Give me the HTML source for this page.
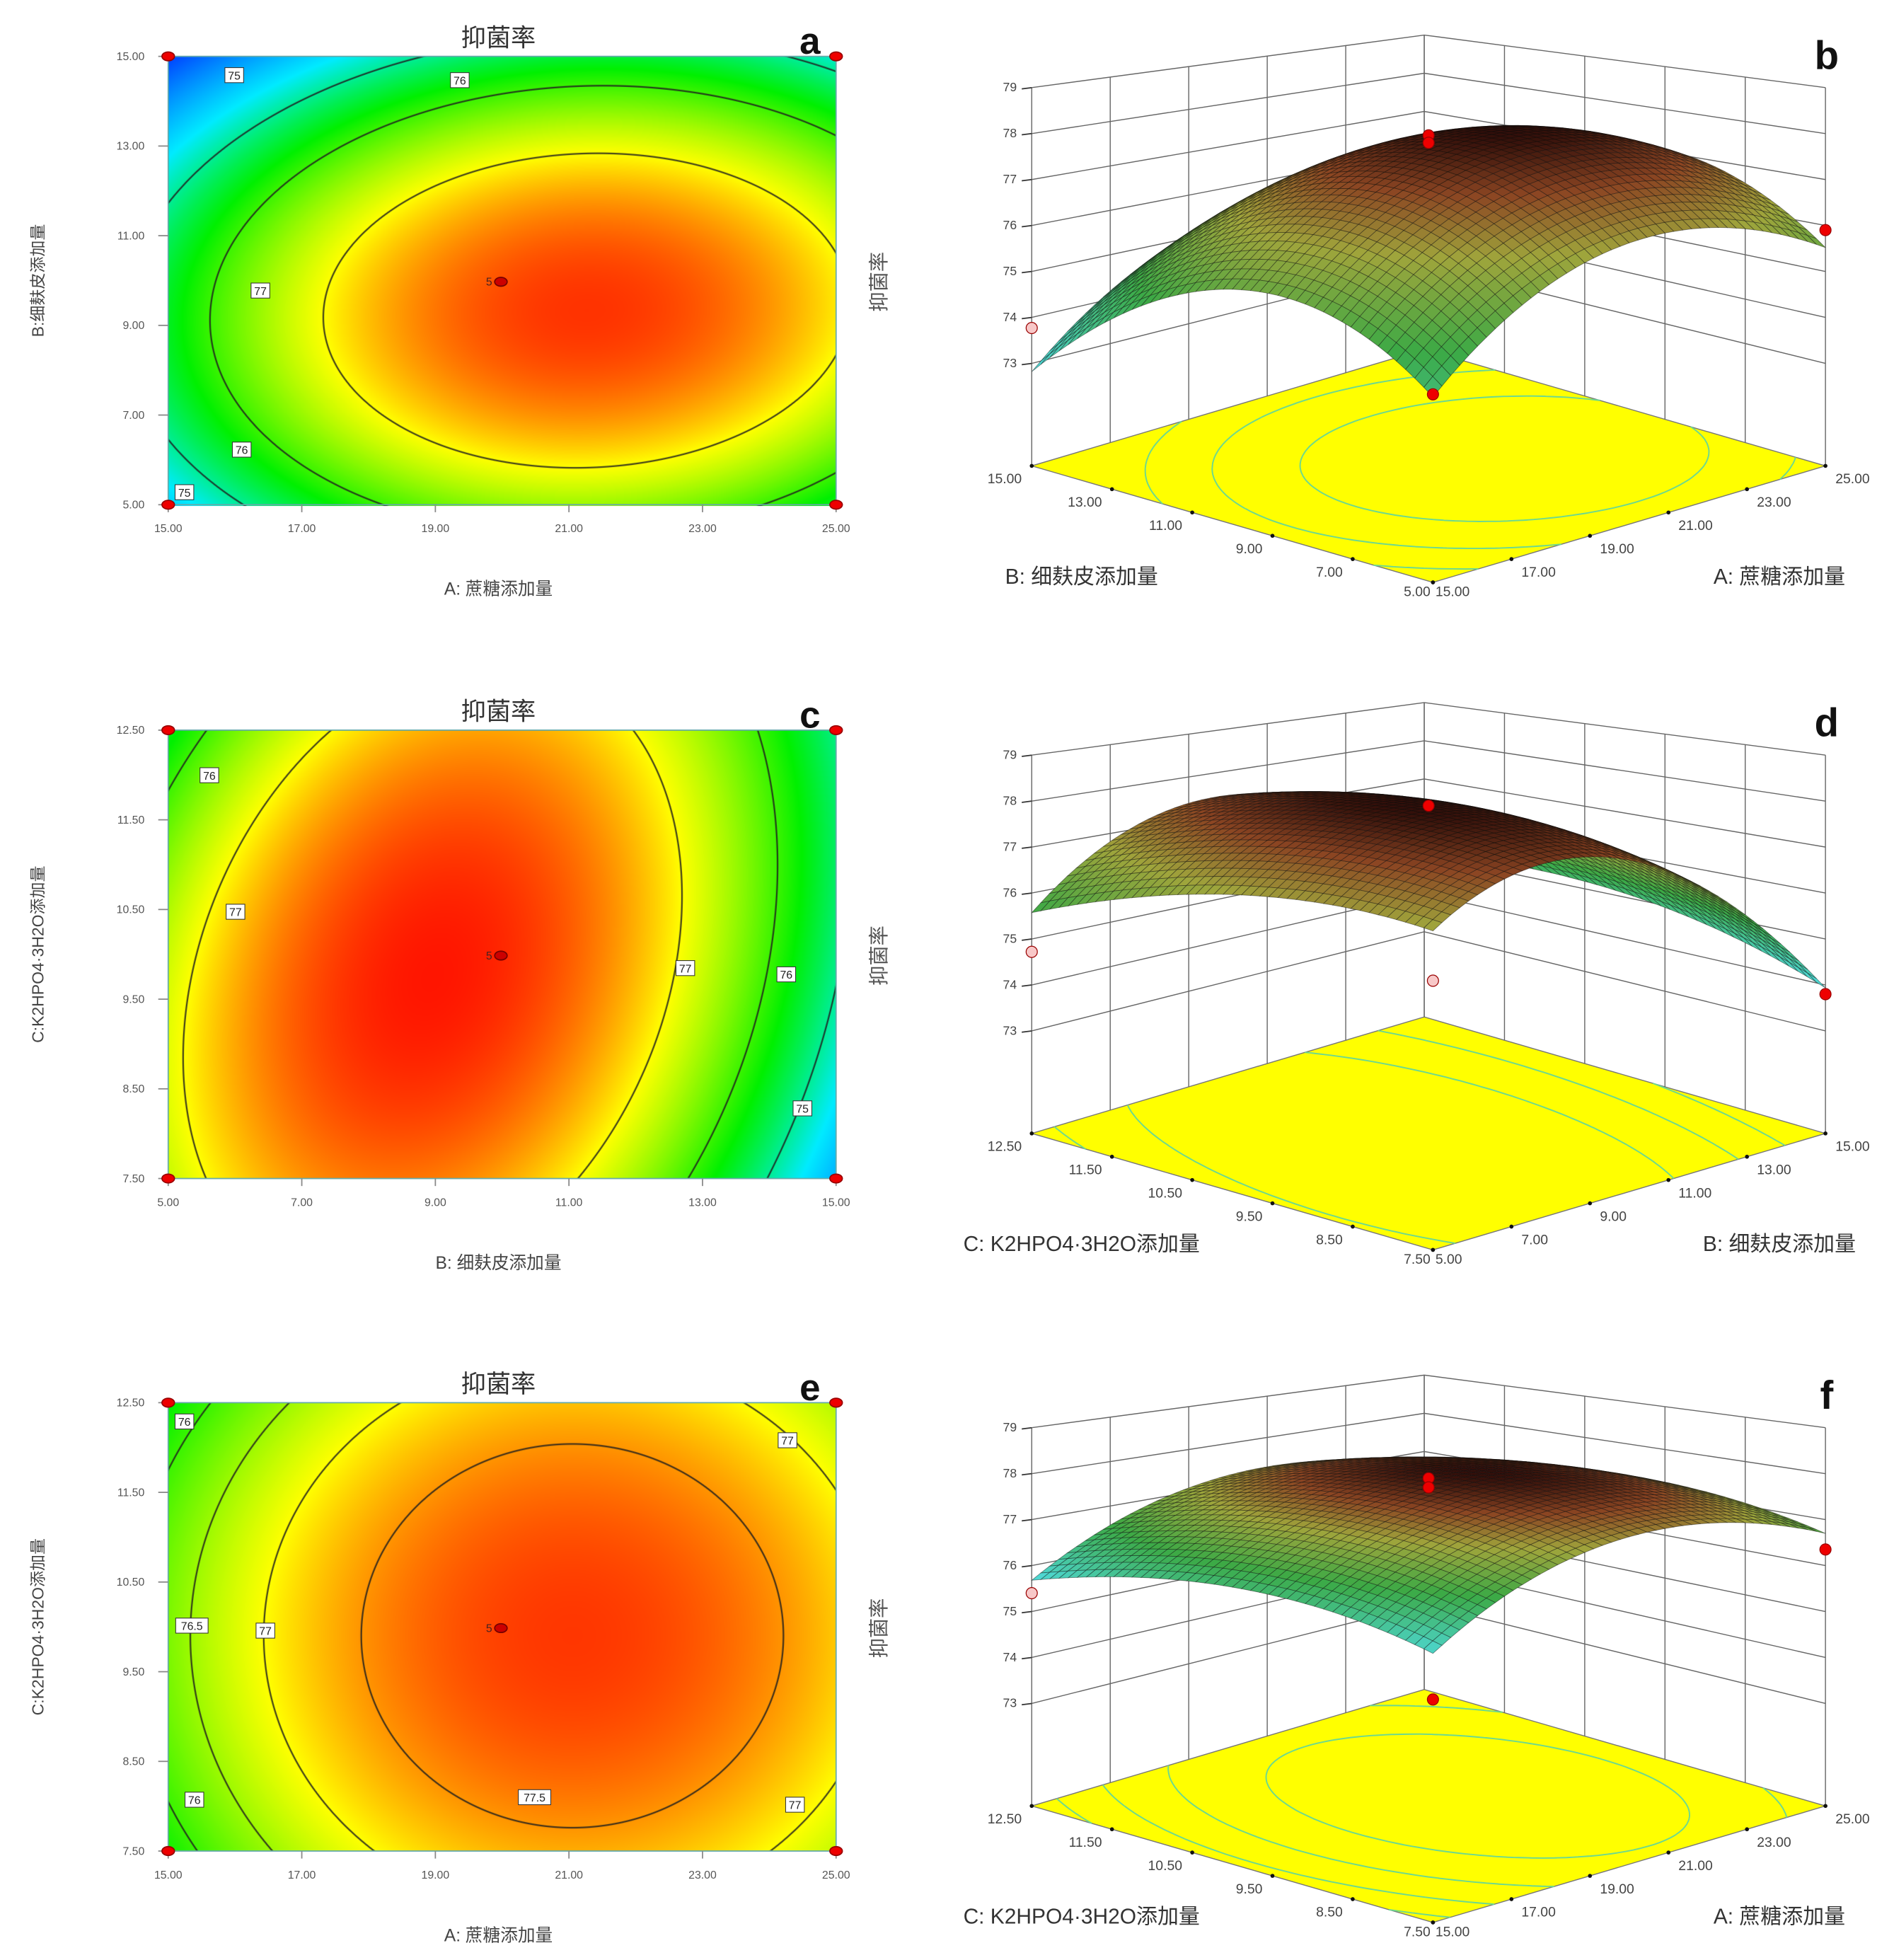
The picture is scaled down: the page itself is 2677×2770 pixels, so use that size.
<!DOCTYPE html>
<html><head><meta charset="utf-8">
<style>
html,body{margin:0;padding:0;background:#fff;}
body{width:2677px;height:2770px;overflow:hidden;position:relative;}
#root{position:absolute;left:0;top:0;width:1520px;height:1565px;transform:scale(1.76118,1.76997);transform-origin:0 0;}
canvas{position:absolute;}
svg{position:absolute;left:0;top:0;}
text{font-family:"Liberation Sans","Noto Sans CJK SC",sans-serif;}
</style></head>
<body>
<div id="root">
<canvas id="cv0" width="944" height="634" style="left:135px;top:45px;width:536px;height:359px"></canvas>
<canvas id="cv1" width="944" height="634" style="left:135px;top:583px;width:536px;height:358px"></canvas>
<canvas id="cv2" width="944" height="634" style="left:135px;top:1120px;width:536px;height:358px"></canvas>
<svg id="sv" width="1520" height="1565" viewBox="0 0 1520 1565"></svg>
</div>
<script>
// ---- model coefficients [b0,b1,b2,b11,b22,b12] (coded -1..1) ----
const coefA = [77.82, 0.8, -0.55, -1.54, -1.96, 0.15];
const coefC = [78.01, -0.819, 0.0, -2.1, -0.588, 0.567];
const coefE = [77.89, 0.462, -0.048, -1.1, -0.6, 0];
const levelsA = [75, 76, 77];
const levelsC = [75, 76, 77];
const levelsE = [76, 76.5, 77, 77.5];
const ticksAx = ["15.00","17.00","19.00","21.00","23.00","25.00"];
const ticksBx = ["5.00","7.00","9.00","11.00","13.00","15.00"];
const ticksBy = ["15.00","13.00","11.00","9.00","7.00","5.00"];
const ticksCy = ["12.50","11.50","10.50","9.50","8.50","7.50"];
const ticksC3 = ["7.50","8.50","9.50","10.50","11.50","12.50"];
const zTicks = [73,74,75,76,77,78,79];
// design points [u, v, z] for 3D panels
const ptsB = [[0.5,0.5,77.96],[0.5,0.5,77.8],[1,0,75.9],[0,1,73.77],[0,0,74.27]];
const ptsD = [[0.5,0.5,77.9],[0,1,74.72],[0,0,75.78],[1,0,73.8]];
const ptsF = [[0.5,0.5,77.9],[0.5,0.5,77.7],[0,1,75.4],[0,0,74.92],[1,0,76.35]];
const pinkB=[3], pinkD=[1,2], pinkF=[2];

const NS="http://www.w3.org/2000/svg";
const sv=document.getElementById('sv');
function el(tag,attrs,parent,txt){const e=document.createElementNS(NS,tag);for(const k in attrs)e.setAttribute(k,attrs[k]);if(txt!==undefined)e.textContent=txt;(parent||sv).appendChild(e);return e;}
function model(c,x,y){return c[0]+c[1]*x+c[2]*y+c[3]*x*x+c[4]*y*y+c[5]*x*y;}
function grad(c,x,y){return [c[1]+2*c[3]*x+c[5]*y, c[2]+2*c[4]*y+c[5]*x];}
const stops=[[72.6,[0,40,255]],[74.5,[0,235,255]],[75.7,[0,240,0]],[77.0,[255,255,0]],[78.1,[255,20,0]]];
function cmap(z){if(z<=stops[0][0])return stops[0][1];for(let i=1;i<stops.length;i++){if(z<=stops[i][0]){const t=(z-stops[i-1][0])/(stops[i][0]-stops[i-1][0]);const a=stops[i-1][1],b=stops[i][1];return [a[0]+(b[0]-a[0])*t,a[1]+(b[1]-a[1])*t,a[2]+(b[2]-a[2])*t];}}return stops[stops.length-1][1];}

function heat(id,coef,levels){
  const cv=document.getElementById(id),ctx=cv.getContext('2d');const W=cv.width,H=cv.height;
  const img=ctx.createImageData(W,H);
  for(let j=0;j<H;j++)for(let i=0;i<W;i++){
    const x=-1+2*(i+0.5)/W, y=1-2*(j+0.5)/H;
    const z=model(coef,x,y);let col=cmap(z);
    const g=grad(coef,x,y);const gp=Math.hypot(g[0]*2/W,g[1]*2/H)+1e-9;
    let a=0;for(const L of levels){const d=Math.abs(z-L)/gp;a=Math.max(a,Math.max(0,Math.min(1,1.6-d)));}
    a*=0.85;
    const k=(j*W+i)*4;
    img.data[k]=col[0]*(1-a)+30*a;img.data[k+1]=col[1]*(1-a)+30*a;img.data[k+2]=col[2]*(1-a)+30*a;img.data[k+3]=255;
  }
  ctx.putImageData(img,0,0);
}
heat('cv0',coefA,levelsA);heat('cv1',coefC,levelsC);heat('cv2',coefE,levelsE);

function panel2D(T,letter,xticks,yticks,xtitle,ytitle,labels,name){
  const g=el('g',{});
  const B=T+358;
  el('rect',{x:135,y:T,width:536,height:358,fill:'none',stroke:'#6aa',"stroke-width":1},g);
  const t=el('text',{x:400,y:T-8,'text-anchor':'middle','font-size':20,fill:'#333'},g,'抑菌率');
  
  const l=el('text',{x:650,y:T-2,'text-anchor':'middle','font-size':30,'font-weight':'bold',fill:'#111'},g,letter);
  
  xticks.forEach((s,i)=>{const x=135+536*i/5;el('line',{x1:x,y1:B,x2:x,y2:B+6,stroke:'#888'},g);const e=el('text',{x:x,y:B+22,'text-anchor':'middle','font-size':9,fill:'#555'},g,s);});
  yticks.forEach((s,i)=>{const y=T+358*i/5;el('line',{x1:127,y1:y,x2:135,y2:y,stroke:'#888'},g);const e=el('text',{x:116,y:y+3,'text-anchor':'end','font-size':9,fill:'#555'},g,s);});
  const xt=el('text',{x:400,y:B+72,'text-anchor':'middle','font-size':14,fill:'#444'},g,xtitle);
  
  const my=T+179;
  const yt=el('text',{x:0,y:0,'text-anchor':'middle','font-size':13,fill:'#444',transform:`translate(35,${my}) rotate(-90)`},g,ytitle);
  
  const rt=el('text',{x:0,y:0,'text-anchor':'middle','font-size':16,fill:'#555',transform:`translate(711,${T+180}) rotate(-90)`},g,'抑菌率');
  
  labels.forEach(([s,x,y])=>{const w=s.length*5.5+4;el('rect',{x:x-w/2,y:y-6,width:w,height:12,fill:'#fff',stroke:'#333','stroke-width':0.6},g);el('text',{x:x,y:y+3.5,'text-anchor':'middle','font-size':9,fill:'#222'},g,s);});
  [[135,T],[671,T],[135,B],[671,B]].forEach(([x,y])=>{const c=el('ellipse',{cx:x,cy:y,rx:5,ry:3.5,fill:'#e00',stroke:'#900'},g);});
  el('ellipse',{cx:402,cy:T+180,rx:5,ry:3.5,fill:'#c00',stroke:'#700'},g);
  el('text',{x:395,y:T+183,'text-anchor':'end','font-size':9,fill:'#422'},g,'5');
}
panel2D(45,'a',ticksAx,ticksBy,'A: 蔗糖添加量','B:细麸皮添加量',[['75',188,60],['76',369,64],['77',209,232],['76',194,359],['75',148,393]],'contour-plot-a');
panel2D(583,'c',ticksBx,ticksCy,'B: 细麸皮添加量','C:K2HPO4·3H2O添加量',[['76',168,619],['77',189,728],['77',550,773],['76',631,778],['75',644,885]],'contour-plot-c');
panel2D(1120,'e',ticksAx,ticksCy,'A: 蔗糖添加量','C:K2HPO4·3H2O添加量',[['76',148,1135],['77',632,1150],['76.5',154,1298],['77',213,1302],['77.5',429,1435],['76',156,1437],['77',638,1441]],'contour-plot-e');

// ---- 3D ----
const Z0=70.77;
function P(u,v,z,off){const fx=1150+315*u-322*v, fy=465+off-93*u-93*v;const s=42.9-6.2*(u+v);return [fx,fy-(z-Z0)*s];}
function panel3D(off,letter,coef,uticks,vticks,utitle,vtitle,pts,pink,levels,name){
  const g=el('g',{});
  const gc='#666';
  const f=[P(0,0,Z0,off),P(1,0,Z0,off),P(1,1,Z0,off),P(0,1,Z0,off)];
  el('polygon',{points:f.map(p=>p.join(',')).join(' '),fill:'#ffff00',stroke:'#777','stroke-width':0.8},g);
  const N=60;let d='';
  for(const L of levels){for(let i=0;i<N;i++)for(let j=0;j<N;j++){
    const u0=i/N,u1=(i+1)/N,v0=j/N,v1=(j+1)/N;
    const c=[[u0,v0],[u1,v0],[u1,v1],[u0,v1]];const zz=c.map(q=>model(coef,2*q[0]-1,2*q[1]-1)-L);
    const ps=[];for(let k=0;k<4;k++){const a=zz[k],b=zz[(k+1)%4];if((a<0)!==(b<0)){const t=a/(a-b);const p=c[k],q=c[(k+1)%4];ps.push([p[0]+(q[0]-p[0])*t,p[1]+(q[1]-p[1])*t]);}}
    if(ps.length>=2){const A=P(ps[0][0],ps[0][1],Z0,off),B=P(ps[1][0],ps[1][1],Z0,off);d+=`M${A[0].toFixed(1)},${A[1].toFixed(1)}L${B[0].toFixed(1)},${B[1].toFixed(1)}`;}
  }}
  el('path',{d:d,stroke:'#6cd890',fill:'none','stroke-width':1.1},g);
  for(let k=0;k<=5;k++){const t=k/5;
    let a=P(t,1,Z0,off),b=P(t,1,79,off);el('line',{x1:a[0],y1:a[1],x2:b[0],y2:b[1],stroke:gc,'stroke-width':0.8},g);
    a=P(1,t,Z0,off);b=P(1,t,79,off);el('line',{x1:a[0],y1:a[1],x2:b[0],y2:b[1],stroke:gc,'stroke-width':0.8},g);}
  zTicks.forEach(z=>{let a=P(0,1,z,off),b=P(1,1,z,off),c=P(1,0,z,off);
    el('polyline',{points:`${a} ${b} ${c}`,fill:'none',stroke:gc,'stroke-width':0.8},g);
    el('line',{x1:a[0]-8,y1:a[1]+1,x2:a[0],y2:a[1],stroke:'#333'},g);
    const e=el('text',{x:a[0]-12,y:a[1]+3,'text-anchor':'end','font-size':10,fill:'#444'},g,String(z));});
  uticks.forEach((s,i)=>{const p=P(i/5,0,Z0,off);el('circle',{cx:p[0],cy:p[1],r:1.6,fill:'#111'},g);const e=el('text',{x:p[0]+(i==0?2:8),y:p[1]+(i==0?11:14),'text-anchor':'start','font-size':11,fill:'#444'},g,s);});
  vticks.forEach((s,i)=>{const p=P(0,i/5,Z0,off);el('circle',{cx:p[0],cy:p[1],r:1.6,fill:'#111'},g);const e=el('text',{x:p[0]-(i==0?2:8),y:p[1]+(i==0?11:14),'text-anchor':'end','font-size':11,fill:'#444'},g,s);});
  const ut=el('text',{x:1428,y:466+off,'text-anchor':'middle','font-size':17,fill:'#333'},g,utitle);
  const vt=el('text',{x:868,y:466+off,'text-anchor':'middle','font-size':17,fill:'#333'},g,vtitle);
  const lt=el('text',{x:1466,y:55+off,'text-anchor':'middle','font-size':32,'font-weight':'bold',fill:'#111'},g,letter);
  const M=44;const quads=[];let zmin=1e9,zmax=-1e9;
  for(let i=0;i<=M;i++)for(let j=0;j<=M;j++){const z=model(coef,2*i/M-1,2*j/M-1);zmin=Math.min(zmin,z);zmax=Math.max(zmax,z);}
  for(let i=0;i<M;i++)for(let j=0;j<M;j++)quads.push([i,j]);
  quads.sort((a,b)=>(b[0]+b[1])-(a[0]+a[1]));
  const sg=el('g',{},g);
  const sstops=[[0,[80,220,225]],[0.4,[60,170,70]],[0.68,[160,165,60]],[0.86,[140,70,35]],[1,[50,15,10]]];
  function scol(t){for(let k=1;k<sstops.length;k++){if(t<=sstops[k][0]){const r=(t-sstops[k-1][0])/(sstops[k][0]-sstops[k-1][0]);const a=sstops[k-1][1],b=sstops[k][1];return `rgb(${(a[0]+(b[0]-a[0])*r)|0},${(a[1]+(b[1]-a[1])*r)|0},${(a[2]+(b[2]-a[2])*r)|0})`;}}return 'rgb(50,15,10)';}
  quads.forEach(([i,j])=>{
    const cs=[[i,j],[i+1,j],[i+1,j+1],[i,j+1]];
    const pp=cs.map(([a,b])=>P(a/M,b/M,model(coef,2*a/M-1,2*b/M-1),off));
    const zc=model(coef,2*(i+.5)/M-1,2*(j+.5)/M-1);
    const t=(zc-zmin)/(zmax-zmin);
    el('polygon',{points:pp.map(p=>p[0].toFixed(1)+','+p[1].toFixed(1)).join(' '),fill:scol(t),stroke:'rgba(10,10,10,0.45)','stroke-width':0.5},sg);
  });
  pts.forEach((q,k)=>{const p=P(q[0],q[1],q[2],off);const c=el('circle',{cx:p[0],cy:p[1],r:4.5,fill:pink.includes(k)?'#f8c8c8':'#e00',stroke:'#900','stroke-width':0.7},g);});
}
panel3D(0,'b',coefA,ticksAx,ticksBx,'A: 蔗糖添加量','B: 细麸皮添加量',ptsB,pinkB,levelsA,'surface-plot-b');
panel3D(533,'d',coefC,ticksBx,ticksC3,'B: 细麸皮添加量','C: K2HPO4·3H2O添加量',ptsD,pinkD,levelsC,'surface-plot-d');
panel3D(1070,'f',coefE,ticksAx,ticksC3,'A: 蔗糖添加量','C: K2HPO4·3H2O添加量',ptsF,pinkF,levelsE,'surface-plot-f');
</script>
</body></html>
